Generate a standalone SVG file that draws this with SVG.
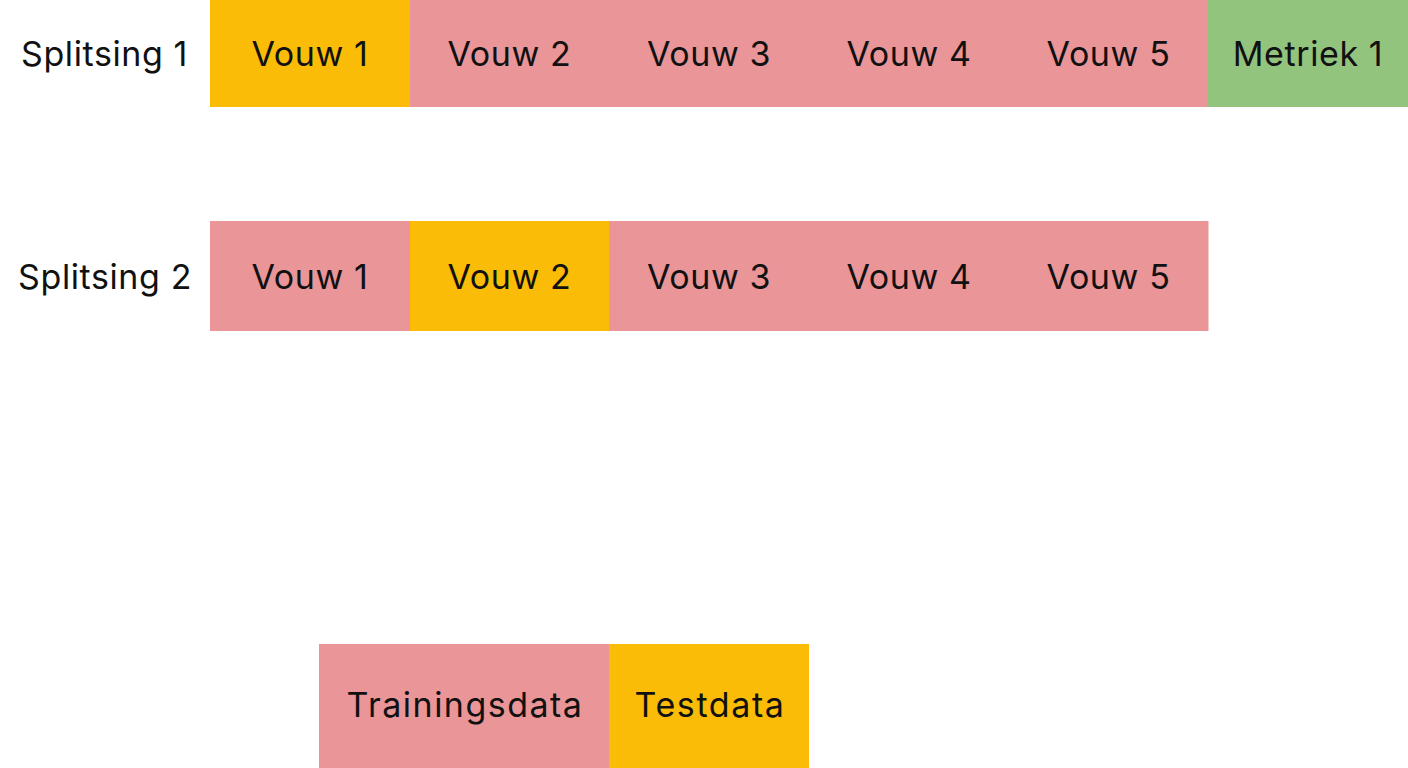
<svg xmlns="http://www.w3.org/2000/svg" width="1408" height="768" viewBox="0 0 1408 768">
<style>
.t{font-family:"Inter","Open Sans","Liberation Sans",sans-serif;font-size:34px;letter-spacing:0.6px;fill:#111;dominant-baseline:central;text-anchor:middle}
.l{text-anchor:end}
.pink{fill:#EA9598}
.yel{fill:#FBBC07}
.grn{fill:#93C47D}
</style>
<rect width="1408" height="768" fill="#fff"/>
<g id="row1">
<text class="t l" x="188" y="53">Splitsing 1</text>
<g id="r1f1"><rect class="yel" x="210" y="0" width="200" height="107"/><text class="t" x="310" y="53">Vouw 1</text></g>
<g id="r1f2"><rect class="pink" x="410" y="0" width="199.5" height="107"/><text class="t" x="509.5" y="53">Vouw 2</text></g>
<g id="r1f3"><rect class="pink" x="609" y="0" width="200.5" height="107"/><text class="t" x="709" y="53">Vouw 3</text></g>
<g id="r1f4"><rect class="pink" x="809" y="0" width="200.5" height="107"/><text class="t" x="909" y="53">Vouw 4</text></g>
<g id="r1f5"><rect class="pink" x="1009" y="0" width="199.5" height="107"/><text class="t" x="1108.5" y="53">Vouw 5</text></g>
<g id="r1m"><rect class="grn" x="1208" y="0" width="200" height="107"/><text class="t" x="1308" y="53">Metriek 1</text></g>
</g>
<g id="row2">
<text class="t l" x="192" y="276">Splitsing 2</text>
<g id="r2f1"><rect class="pink" x="210" y="221" width="200" height="110"/><text class="t" x="310" y="276">Vouw 1</text></g>
<g id="r2f2"><rect class="yel" x="410" y="221" width="199.5" height="110"/><text class="t" x="509.5" y="276">Vouw 2</text></g>
<g id="r2f3"><rect class="pink" x="609" y="221" width="200.5" height="110"/><text class="t" x="709" y="276">Vouw 3</text></g>
<g id="r2f4"><rect class="pink" x="809" y="221" width="200.5" height="110"/><text class="t" x="909" y="276">Vouw 4</text></g>
<g id="r2f5"><rect class="pink" x="1009" y="221" width="199.5" height="110"/><text class="t" x="1108.5" y="276">Vouw 5</text></g>
</g>
<g id="legend">
<g id="train"><rect class="pink" x="319" y="644" width="290.5" height="124"/><text class="t" x="464.5" y="704" textLength="236" lengthAdjust="spacing">Trainingsdata</text></g>
<g id="test"><rect class="yel" x="609" y="644" width="200" height="124"/><text class="t" x="709.5" y="704" textLength="150" lengthAdjust="spacing">Testdata</text></g>
</g>
<g id="connectors"/>
</svg>
